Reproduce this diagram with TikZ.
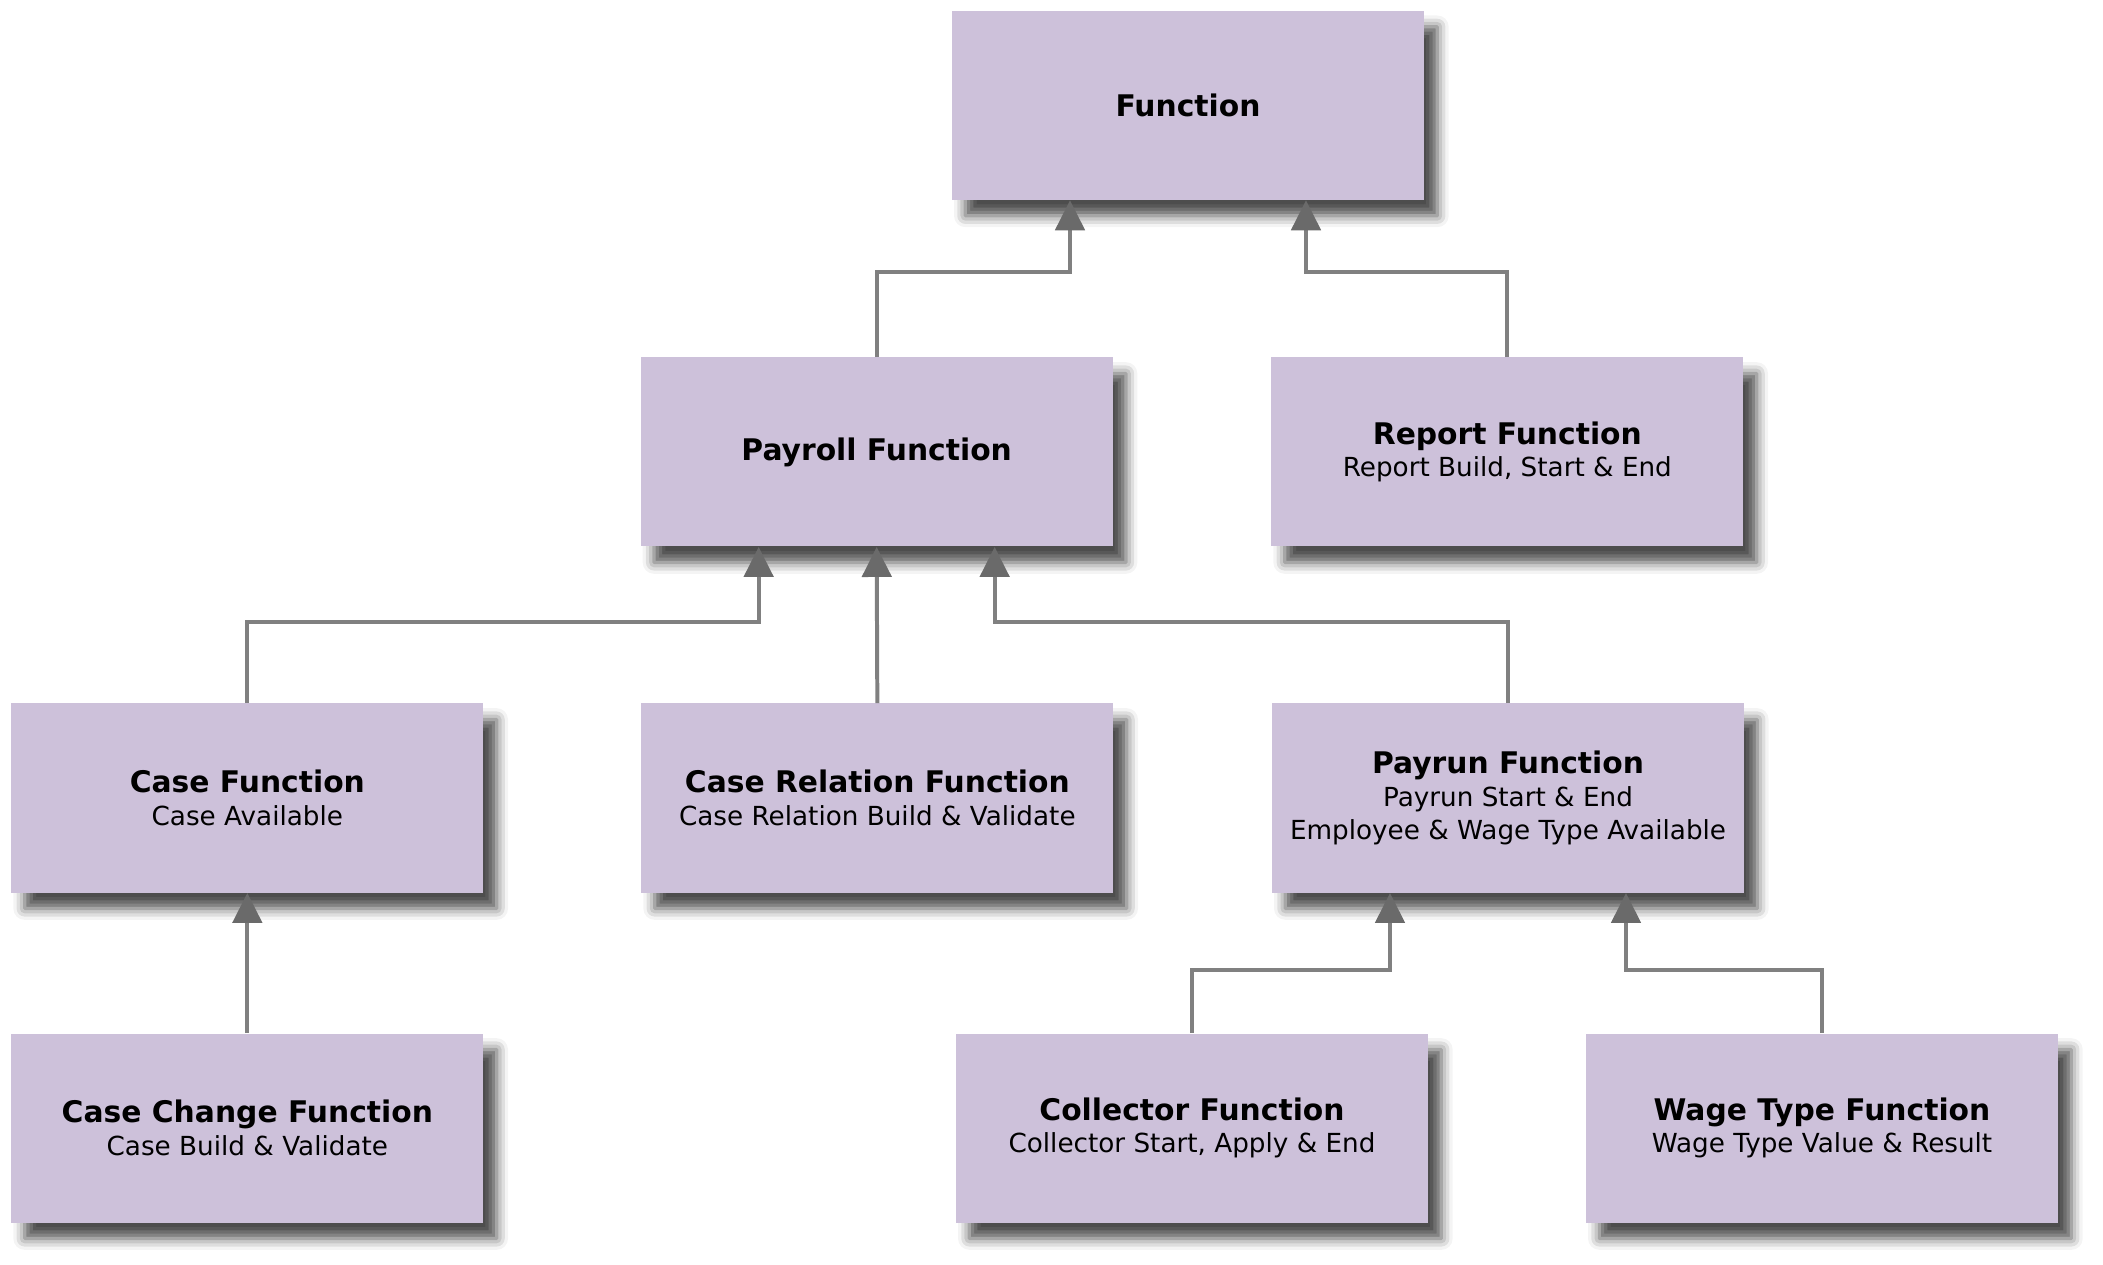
\documentclass[tikz,border=0pt]{standalone}
\usepackage{fontspec}
\setmainfont{DejaVu Sans}
\usepackage{xcolor}
\usepackage{tikz}
\usetikzlibrary{arrows.meta,shadows.blur}

\definecolor{boxfill}{HTML}{CDC1DA}
\definecolor{linegray}{HTML}{808080}
\definecolor{tipgray}{HTML}{6A6A6A}
\newcommand{\boxtitle}[1]{{\fontsize{12.7}{14}\selectfont\bfseries #1}}

\begin{document}
\begin{tikzpicture}[
    fn/.style={fill=boxfill, minimum width=7.08cm, minimum height=2.835cm,
      align=center, inner sep=0pt, font=\fontsize{11.2}{14}\selectfont,
      blur shadow={shadow xshift=0.2cm, shadow yshift=-0.24cm,
        shadow blur radius=0.17cm, shadow opacity=70}},
    conn/.style={draw=linegray, line width=1.7pt,
      -{Triangle[width=0.44cm,length=0.45cm,fill=tipgray,color=tipgray]}}]
      \useasboundingbox (0,0) rectangle (31.545,-18.975);
      \node[fn] (function) at (17.82,-1.58) {\boxtitle{Function}};
      \node[fn] (payroll) at (13.15,-6.78) {\boxtitle{Payroll Function}};
      \node[fn] (report) at (22.61,-6.78) {\boxtitle{Report Function}\\Report Build, Start \& End};
      \node[fn] (case) at (3.71,-11.97) {\boxtitle{Case Function}\\Case Available};
      \node[fn] (caserel) at (13.16,-11.97) {\boxtitle{Case Relation Function}\\Case Relation Build \& Validate};
      \node[fn] (payrun) at (22.62,-11.97) {\boxtitle{Payrun Function}\\Payrun Start \& End\\Employee \& Wage Type Available};
      \node[fn] (casechange) at (3.71,-16.92) {\boxtitle{Case Change Function}\\Case Build \& Validate};
      \node[fn] (collector) at (17.88,-16.92) {\boxtitle{Collector Function}\\Collector Start, Apply \& End};
      \node[fn] (wagetype) at (27.33,-16.92) {\boxtitle{Wage Type Function}\\Wage Type Value \& Result};
      % connectors, child up to parent
      \draw[conn] (payroll.north) -- ++(0,1.27) -| ([xshift=-1.77cm]function.south);
      \draw[conn] (report.north) -- ++(0,1.27) -| ([xshift=1.77cm]function.south);
      \draw[conn] (case.north) -- ++(0,1.21) -| ([xshift=-1.77cm]payroll.south);
      \draw[conn] (caserel.north) -- (payroll.south);
      \draw[conn] (payrun.north) -- ++(0,1.21) -| ([xshift=1.77cm]payroll.south);
      \draw[conn] (casechange.north) -- (case.south);
      \draw[conn] (collector.north) -- ++(0,0.95) -| ([xshift=-1.77cm]payrun.south);
      \draw[conn] (wagetype.north) -- ++(0,0.95) -| ([xshift=1.77cm]payrun.south);
    \end{tikzpicture}
\end{document}
